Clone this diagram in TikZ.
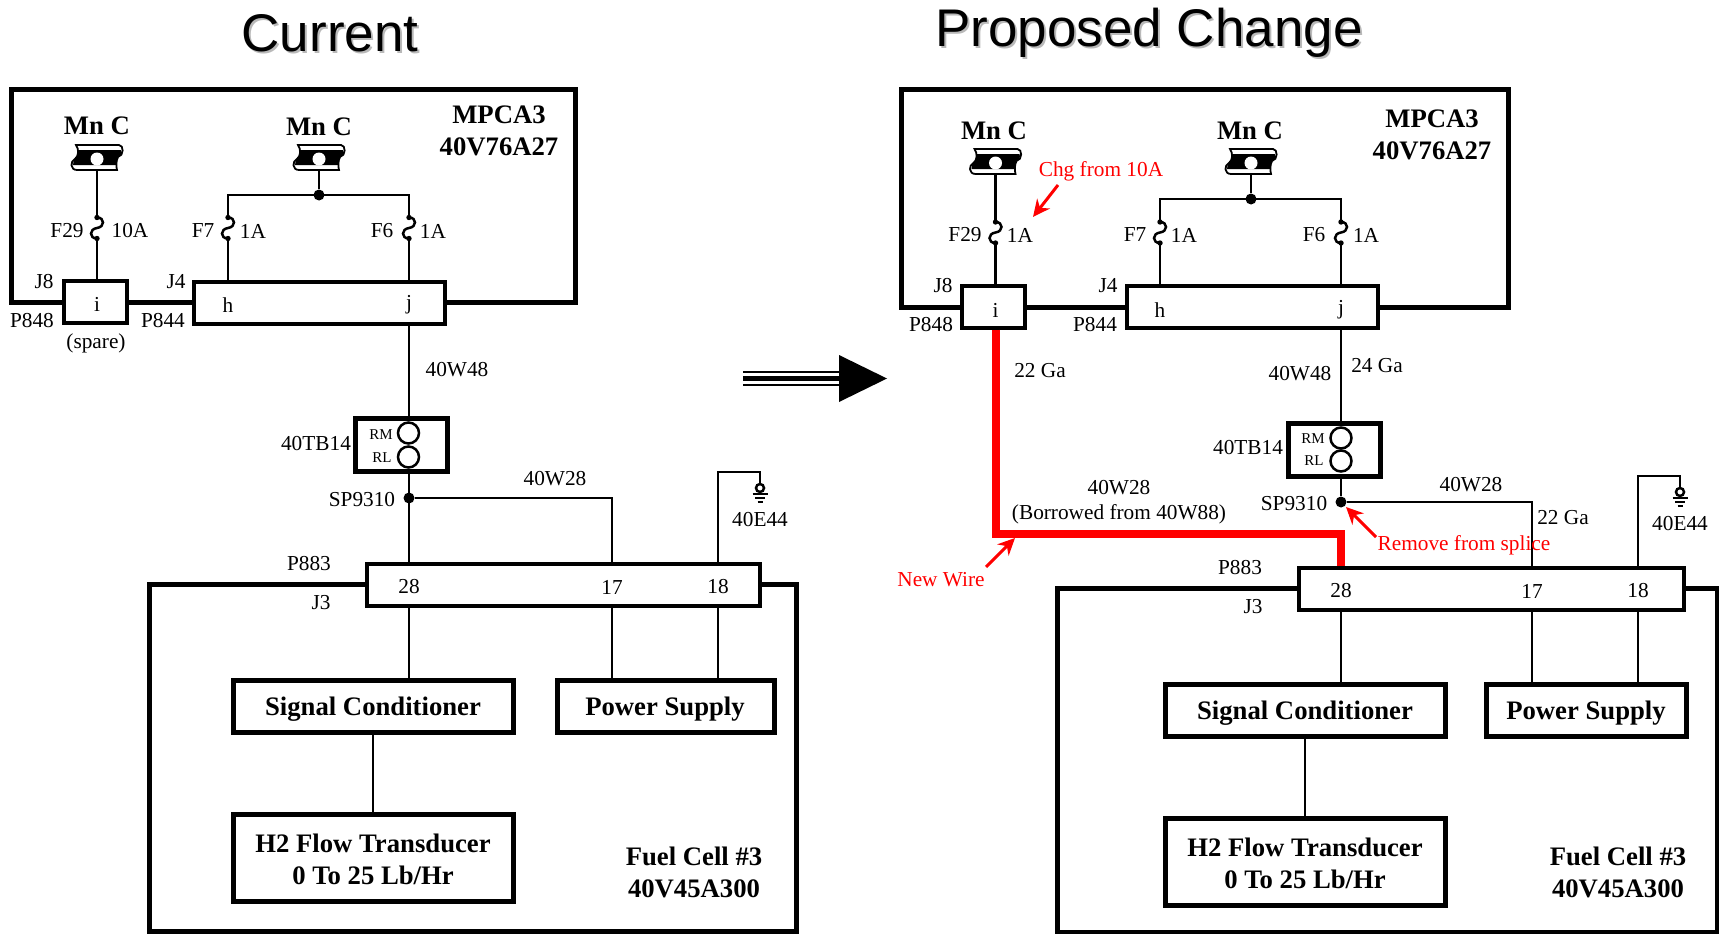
\documentclass[tikz,border=0pt]{standalone}
\usepackage{fontspec}
\setmainfont{Liberation Serif}
\newfontfamily\titlefont{Liberation Sans}
\usetikzlibrary{arrows.meta}
\tikzset{
  lbl/.style = {inner sep = 0, yshift = -1pt, font = \fontsize{21.3}{24}\selectfont},
  tiny/.style = {inner sep = 0, yshift = -1pt, font = \fontsize{15}{18}\selectfont},
  bold/.style = {inner sep = 0, yshift = -1pt, align = center, font = \bfseries\fontsize{26.7}{32}\selectfont},
  redlbl/.style = {lbl, red},
  titl/.style = {inner sep = 0, font = \titlefont\fontsize{53}{60}\selectfont},
  wire/.style = {line width = 2.5pt},
  redwire/.style = {red, line width = 8pt},
  redarrow/.style = {red, line width = 3pt, -{Stealth[length = 17pt, width = 16pt]}},
  encl/.style = {draw, line width = 5pt},
  connbox/.style = {draw, fill = white, line width = 4pt, inner sep = 0},
  unitbox/.style = {draw, fill = white, line width = 5pt, inner sep = 0},
  dot/.style = {fill, circle, inner sep = 0, minimum size = 11pt},
  mnsym/.pic = {
    \draw [line width = 1.8pt, fill = white] (-21, -14) -- (22, -14) .. controls (27, -14) and (27, -3) .. (21, -2)
      .. controls (19, 2) and (19, 7) .. (20, 11) -- (-20, 11) .. controls (-27, 11) and (-27, 2) .. (-22, 0)
      .. controls (-18, -3) and (-18, -10) .. (-21, -14) -- cycle;
    \fill (-19, -9) -- (24, -9) .. controls (25, -6) and (24, -3) .. (21, -2) .. controls (19.5, 1) and (19, 3) .. (19, 6)
      -- (-24, 6) .. controls (-24, 3) and (-23, 1) .. (-22, 0) .. controls (-19.5, -2) and (-18.5, -6) .. (-19, -9) -- cycle;
    \fill [white] (0, 0) circle [radius = 6.5];
  },
  fusesym/.pic = {
    \draw [line width = 2.5pt] (0, -10.5) .. controls (8, -10.5) and (8, -1) .. (0, 0) .. controls (-8, 1) and (-8, 10.5) .. (0, 10.5);
    \fill (0, -10.5) circle [radius = 2.7];
    \fill (0, 10.5) circle [radius = 2.7];
  },
  gndsym/.pic = {
    \draw [wire] (0, 5) circle [radius = 4];
    \draw [wire] (-7.5, 11) -- (7.5, 11);
    \draw [wire] (-5, 15) -- (5, 15);
    \draw [wire] (-2.5, 19) -- (2.5, 19);
  },
  termsym/.pic = {
    \draw [wire, fill = white] (0, 0) circle [radius = 10.5];
  }
}

\begin{document}
\begin{tikzpicture}[x = 1pt, y = -1pt]
  \path [use as bounding box, clip] (0, 0) rectangle (1719, 934);
  \fill [white] (0, 0) rectangle (1719, 934);

  % titles
  \node [titl, gray!55] (lshadow) at (332, 35) {Current};
  \node [titl] (ltitle) at (330, 33) {Current};
  \node [titl, gray!55] (rshadow) at (1151, 35) {Proposed Change};
  \node [titl] (rtitle) at (1149, 33) {Proposed Change};

  % big arrow
  \draw [line width = 2pt] (743, 372) -- (839, 372);
  \draw [line width = 5pt] (743, 378.5) -- (839, 378.5);
  \draw [line width = 2pt] (743, 385) -- (839, 385);
  \fill (839, 355) -- (887, 378.5) -- (839, 402) -- cycle;

  %%% current
  \draw [encl] (11, 302) -- (11, 89) -- (575, 89) -- (575, 302) -- cycle;
  \draw [encl] (149, 584) rectangle (796, 931);

  \node [connbox, minimum width = 63, minimum height = 42] (lconni) at (95, 302) {};
  \node [connbox, minimum width = 251, minimum height = 42] (lconnj) at (319, 302.5) {};
  \node [connbox, minimum width = 393, minimum height = 42] (lp883) at (563, 585) {};
  \node [unitbox, minimum width = 92, minimum height = 53] (ltb) at (401.5, 445) {};
  \node [unitbox, minimum width = 280, minimum height = 52] (lsig) at (373, 706) {};
  \node [unitbox, minimum width = 217, minimum height = 52] (lpow) at (665.5, 706) {};
  \node [unitbox, minimum width = 280, minimum height = 87] (lflow) at (373, 857.5) {};

  \node [lbl] (li) at (97, 303) {i};
  \node [lbl] (lh) at (228, 304) {h};
  \node [lbl] (lj) at (409, 304) {j};
  \node [lbl] (l28) at (409, 586) {28};
  \node [lbl] (l17) at (612, 586) {17};
  \node [lbl] (l18) at (718, 586) {18};

  \node [bold] (lmna) at (97, 125) {Mn C};
  \node [bold] (lmnb) at (319, 126) {Mn C};
  \node [bold] (lmpca) at (499, 130) {MPCA3\\40V76A27};
  \node [bold] (lsigtxt) at (373, 708) {Signal Conditioner};
  \node [bold] (lpowtxt) at (665, 708) {Power Supply};
  \node [bold] (lflowtxt) at (373, 858) {H2 Flow Transducer\\0 To 25 Lb/Hr};
  \node [bold] (lfuel) at (694, 871) {Fuel Cell \#3\\40V45A300};

  \node [lbl] (lfa) at (67, 230) {F29};
  \node [lbl] (lfaval) at (130, 230) {10A};
  \node [lbl] (lfb) at (203, 230) {F7};
  \node [lbl] (lfbval) at (253, 230) {1A};
  \node [lbl] (lfc) at (382, 230) {F6};
  \node [lbl] (lfcval) at (433, 230) {1A};
  \node [lbl] (lja) at (44, 281) {J8};
  \node [lbl] (lpa) at (32, 320) {P848};
  \node [lbl] (ljb) at (176, 281) {J4};
  \node [lbl] (lpb) at (163, 320) {P844};
  \node [lbl] (lspare) at (96, 342) {(spare)};
  \node [lbl] (lwa) at (457, 369) {40W48};
  \node [lbl] (ltblbl) at (316, 443) {40TB14};
  \node [tiny] (lrm) at (381, 434) {RM};
  \node [tiny] (lrl) at (382, 457) {RL};
  \node [lbl] (lsplbl) at (362, 499) {SP9310};
  \node [lbl] (lwb) at (555, 478) {40W28};
  \node [lbl] (lgndlbl) at (760, 519) {40E44};
  \node [lbl] (lplbl) at (309, 563) {P883};
  \node [lbl] (ljlbl) at (321, 602) {J3};

  \coordinate (lsyma) at (97, 159);
  \coordinate (lsymb) at (319, 159);
  \coordinate (lfusea) at (97, 228);
  \coordinate (lfuseb) at (228, 228);
  \coordinate (lfusec) at (409, 228);
  \coordinate (lgnd) at (760, 483);
  \coordinate (lgndtop) at (718, 472);
  \coordinate (lcorner) at (612, 498);
  \node [dot] (lsplice) at (409, 498) {};
  \node [dot] (lbusdot) at (319, 195) {};
  \coordinate (ltma) at (408.5, 433);
  \coordinate (ltmb) at (408.5, 457);

  \draw [wire] (lsyma) -- (lfusea) -- (li |- lconni.north);
  \draw [wire] (lsymb) -- (lbusdot);
  \draw [wire] (lh |- lconnj.north) -- (lfuseb) -- (lfuseb |- lbusdot) -- (lfusec |- lbusdot) -- (lfusec) -- (lj |- lconnj.north);
  \draw [wire] (lj |- lconnj.south) -- (lj |- ltb.north);
  \draw [wire] (lj |- ltb.south) -- (l28 |- lp883.north);
  \draw [wire] (lsplice) -- (lcorner) -- (l17 |- lp883.north);
  \draw [wire] (l18 |- lp883.north) -- (lgndtop) -- (lgndtop -| lgnd) -- (lgnd);
  \draw [wire] (l28 |- lp883.south) -- (l28 |- lsig.north);
  \draw [wire] (l17 |- lp883.south) -- (l17 |- lpow.north);
  \draw [wire] (l18 |- lp883.south) -- (l18 |- lpow.north);
  \draw [wire] (lsig.south) -- (lflow.north);

  \pic at (lsyma) {mnsym};
  \pic at (lsymb) {mnsym};
  \fill [white] (lfusea) +(-2, -9) rectangle +(2, 9);
  \fill [white] (lfuseb) +(-2, -9) rectangle +(2, 9);
  \fill [white] (lfusec) +(-2, -9) rectangle +(2, 9);
  \pic at (lfusea) {fusesym};
  \pic at (lfuseb) {fusesym};
  \pic at (lfusec) {fusesym};
  \pic at (lgnd) {gndsym};
  \pic at (ltma) {termsym};
  \pic at (ltmb) {termsym};

  %%% proposed change
  \draw [encl] (901, 307) -- (901, 89) -- (1508, 89) -- (1508, 307) -- cycle;
  \draw [encl] (1057, 588) rectangle (1717, 932);

  \node [connbox, minimum width = 63, minimum height = 42] (rconni) at (993.5, 306.5) {};
  \node [connbox, minimum width = 251, minimum height = 42] (rconnj) at (1252, 306.5) {};
  \node [connbox, minimum width = 385, minimum height = 42] (rp883) at (1491.5, 588.5) {};
  \node [unitbox, minimum width = 92, minimum height = 53] (rtb) at (1334, 449.5) {};
  \node [unitbox, minimum width = 280, minimum height = 52] (rsig) at (1305, 710) {};
  \node [unitbox, minimum width = 200, minimum height = 52] (rpow) at (1586.5, 710) {};
  \node [unitbox, minimum width = 280, minimum height = 87] (rflow) at (1305, 861.5) {};

  \node [lbl] (ri) at (995.5, 309) {i};
  \node [lbl] (rh) at (1160, 309) {h};
  \node [lbl] (rj) at (1341, 309) {j};
  \node [lbl] (r28) at (1341, 590) {28};
  \node [lbl] (r17) at (1532, 590) {17};
  \node [lbl] (r18) at (1638, 590) {18};

  \node [bold] (rmna) at (994, 130) {Mn C};
  \node [bold] (rmnb) at (1250, 130) {Mn C};
  \node [bold] (rmpca) at (1432, 134) {MPCA3\\40V76A27};
  \node [lbl] (rfa) at (965, 234) {F29};
  \node [lbl] (rfaval) at (1020, 234) {1A};
  \node [lbl] (rfb) at (1135, 234) {F7};
  \node [lbl] (rfbval) at (1184, 234) {1A};
  \node [lbl] (rfc) at (1314, 234) {F6};
  \node [lbl] (rfcval) at (1366, 234) {1A};
  \node [lbl] (rja) at (943, 285) {J8};
  \node [lbl] (rpa) at (931, 324) {P848};
  \node [lbl] (rjb) at (1108, 285) {J4};
  \node [lbl] (rpb) at (1095, 324) {P844};
  \node [lbl] (rga) at (1040, 370) {22 Ga};
  \node [lbl] (rgb) at (1377, 365) {24 Ga};
  \node [lbl] (rgc) at (1563, 517) {22 Ga};
  \node [lbl] (rwa) at (1300, 373) {40W48};
  \node [lbl] (rtblbl) at (1248, 447) {40TB14};
  \node [tiny] (rrm) at (1313, 438) {RM};
  \node [tiny] (rrl) at (1314, 460) {RL};
  \node [lbl] (rsplbl) at (1294, 503) {SP9310};
  \node [lbl] (rwb) at (1471, 484) {40W28};
  \node [lbl] (rwc) at (1119, 487) {40W28};
  \node [lbl] (rborrow) at (1119, 513) {(Borrowed from 40W88)};
  \node [lbl] (rgndlbl) at (1680, 523) {40E44};
  \node [lbl] (rplbl) at (1240, 567) {P883};
  \node [lbl] (rjlbl) at (1253, 606) {J3};

  \coordinate (rsyma) at (995.5, 163);
  \coordinate (rsymb) at (1251, 163);
  \coordinate (rfusea) at (995.5, 232.5);
  \coordinate (rfuseb) at (1160, 232.5);
  \coordinate (rfusec) at (1341, 232.5);
  \coordinate (rgnd) at (1680, 487);
  \coordinate (rgndtop) at (1638, 476);
  \coordinate (rcorner) at (1532, 502);
  \coordinate (rbend) at (1341, 533.5);
  \node [dot] (rsplice) at (1341, 502) {};
  \node [dot] (rbusdot) at (1251, 199) {};
  \coordinate (rtma) at (1341, 438);
  \coordinate (rtmb) at (1341, 461);

  \draw [wire] (rsyma) -- (rfusea) -- (ri |- rconni.north);
  \draw [wire] (rsymb) -- (rbusdot);
  \draw [wire] (rh |- rconnj.north) -- (rfuseb) -- (rfuseb |- rbusdot) -- (rfusec |- rbusdot) -- (rfusec) -- (rj |- rconnj.north);
  \draw [wire] (rj |- rconnj.south) -- (rj |- rtb.north);
  \draw [wire] (rj |- rtb.south) -- (rsplice);
  \draw [wire] (rsplice) -- (rcorner) -- (r17 |- rp883.north);
  \draw [wire] (r18 |- rp883.north) -- (rgndtop) -- (rgndtop -| rgnd) -- (rgnd);
  \draw [wire] (r28 |- rp883.south) -- (r28 |- rsig.north);
  \draw [wire] (r17 |- rp883.south) -- (r17 |- rpow.north);
  \draw [wire] (r18 |- rp883.south) -- (r18 |- rpow.north);
  \draw [wire] (rsig.south) -- (rflow.north);
  \draw [redwire] (ri |- rconni.south) |- (rbend) -- (r28 |- rp883.north);

  \node [bold] (rsigtxt) at (1305, 712) {Signal Conditioner};
  \node [bold] (rpowtxt) at (1586, 712) {Power Supply};
  \node [bold] (rflowtxt) at (1305, 862) {H2 Flow Transducer\\0 To 25 Lb/Hr};
  \node [bold] (rfuel) at (1618, 871) {Fuel Cell \#3\\40V45A300};

  \pic at (rsyma) {mnsym};
  \pic at (rsymb) {mnsym};
  \fill [white] (rfusea) +(-2, -9) rectangle +(2, 9);
  \fill [white] (rfuseb) +(-2, -9) rectangle +(2, 9);
  \fill [white] (rfusec) +(-2, -9) rectangle +(2, 9);
  \pic at (rfusea) {fusesym};
  \pic at (rfuseb) {fusesym};
  \pic at (rfusec) {fusesym};
  \pic at (rgnd) {gndsym};
  \pic at (rtma) {termsym};
  \pic at (rtmb) {termsym};

  % red notes
  \node [redlbl] (rchg) at (1101, 170) {Chg from 10A};
  \node [redlbl] (rnew) at (941, 579) {New Wire};
  \node [redlbl] (rremove) at (1464, 544) {Remove from splice};
  \coordinate (rchgend) at (1033, 217);
  \coordinate (rnewend) at (1015, 538);
  \coordinate (rremoveend) at (1346, 507);
  \draw [redarrow] (1058, 185) -- (rchgend);
  \draw [redarrow] (986, 567) -- (rnewend);
  \draw [redarrow] (1376, 537) -- (rremoveend);
\end{tikzpicture}
\end{document}
